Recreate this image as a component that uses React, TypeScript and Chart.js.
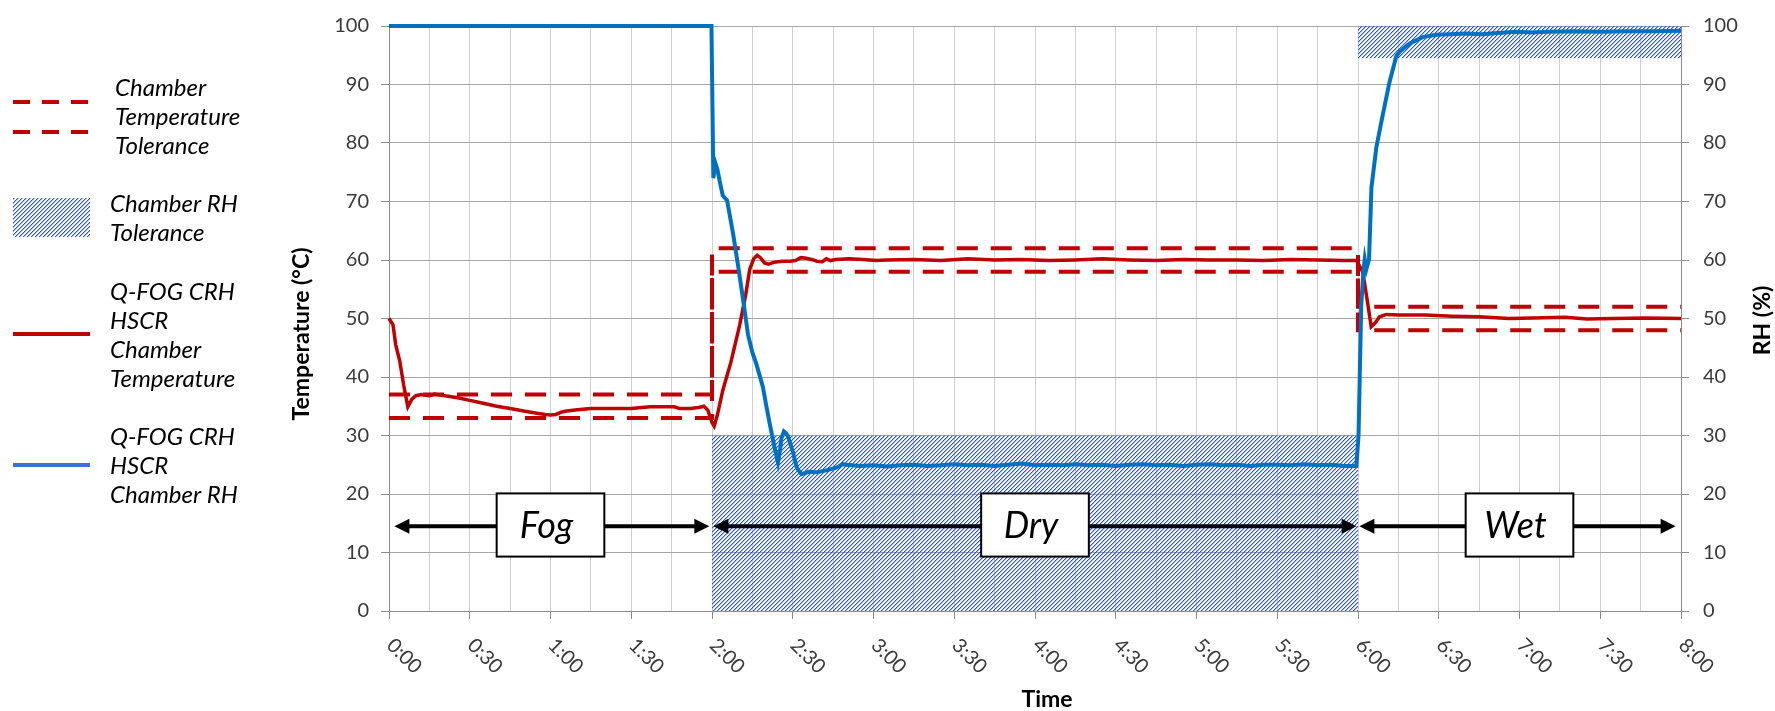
import React, { useEffect, useRef } from 'react';
import { Chart, registerables } from 'chart.js';

Chart.register(...registerables);

// ---------- DATA ----------
// Time in minutes from start
const tempTime = [
  0, 1.5, 2.5, 4, 5.5, 7, 8.5, 10, 12, 15, 17, 19, 22, 26, 30, 35, 40, 45, 50, 55, 58, 60, 62, 64, 66, 70,
  75, 80, 85, 90, 94, 97, 102, 106, 108, 112, 115, 117, 118.5, 120, 120.8, 122, 124, 127, 130.3, 132.5, 134,
  135.5, 136.8, 138, 139.5, 141, 143, 146, 149, 151, 153, 155, 157, 159, 161, 162.5, 164, 166, 171, 176, 181,
  185, 195, 205, 215, 225, 235, 245, 255, 265, 275, 285, 295, 305, 315, 325, 335, 345, 355, 359.5, 361.8,
  363.7, 364.9, 366.5, 368, 370.5, 375, 385, 395, 405, 416, 425, 437, 445, 455, 467, 480,
];
const tempValue = [
  50.0, 48.9, 45.5, 42.7, 38.5, 34.9, 36.2, 36.8, 37.0, 36.8, 37.1, 36.9, 36.7, 36.4, 36.0, 35.5, 35.0, 34.6,
  34.2, 33.8, 33.6, 33.5, 33.6, 34.0, 34.2, 34.4, 34.6, 34.6, 34.6, 34.6, 34.8, 34.9, 34.9, 34.9, 34.6, 34.6,
  34.8, 35.0, 34.3, 32.2, 31.6, 33.5, 37.7, 42.5, 48.9, 54.0, 58.4, 60.2, 60.8, 60.4, 59.5, 59.3, 59.6, 59.8,
  59.8, 59.9, 60.4, 60.3, 60.1, 59.8, 59.7, 60.2, 59.9, 60.1, 60.2, 60.1, 59.9, 60.0, 60.1, 59.9, 60.2, 60.0,
  60.1, 59.9, 60.0, 60.2, 60.0, 59.9, 60.1, 60.0, 60.0, 59.9, 60.1, 60.0, 59.9, 59.9, 57.9, 52.3, 48.6, 49.3,
  50.3, 50.7, 50.6, 50.6, 50.4, 50.3, 50.0, 50.1, 50.2, 49.9, 50.0, 50.1, 50.0,
];

const rhTime = [
  0, 119.8, 120.5, 121.3, 122, 122.8, 124, 125.6, 127.8, 129.7, 131.5, 133.4, 135, 136.5, 138.9, 140.2, 141.4,
  143, 144.5, 145.3, 145.8, 146.7, 147.5, 148.2, 150.1, 151.5, 153.2, 156, 158.8, 162, 166.2, 168.6, 170, 175,
  180, 185, 190, 195, 200, 205, 210, 215, 220, 225, 230, 235, 240, 245, 250, 255, 260, 265, 270, 275, 280, 285,
  290, 295, 300, 305, 310, 315, 320, 325, 330, 335, 340, 345, 350, 355, 359.4, 360.2, 361.2, 362, 362.5, 363.1,
  364.1, 365, 366.8, 369.2, 371.7, 374.2, 375.5, 379.2, 384.1, 389, 394, 400, 406, 412, 419, 425, 430, 440, 450,
  460, 470, 480,
];
const rhValue = [
  100, 100, 74.0, 76.5, 75.5, 73.6, 71.0, 70.2, 64.6, 59.0, 53.4, 47.2, 44.2, 42.2, 38.3, 35.0, 32.1, 28.5,
  25.4, 27.5, 29.5, 30.7, 30.4, 29.9, 27.1, 24.5, 23.4, 23.8, 23.7, 24.0, 24.5, 25.1, 25.0, 24.8, 24.9, 24.7,
  24.9, 25.0, 24.8, 24.9, 25.1, 24.9, 25.0, 24.8, 25.0, 25.2, 24.9, 25.0, 24.9, 25.1, 24.9, 25.0, 24.8, 25.0,
  25.1, 24.9, 25.0, 24.8, 25.0, 25.1, 24.9, 25.0, 24.8, 25.0, 25.0, 24.9, 25.1, 24.9, 25.0, 24.8, 24.8, 30.0,
  52.3, 58.0, 60.1, 58.4, 60.1, 72.4, 79.2, 84.8, 90.4, 94.8, 95.6, 97.0, 98.1, 98.5, 98.6, 98.7, 98.6, 98.8,
  99.0, 98.9, 99.0, 99.1, 99.0, 99.1, 99.1, 99.2,
];

const tolTime = [0, 120, 120, 360, 360, 480];
const tolUpper = [37, 37, 62, 62, 52, 52];
const tolLower = [33, 33, 58, 58, 48, 48];

const rhBandDryTime = [120, 360];
const rhBandDryTop = [30, 30];
const rhBandWetTime = [360, 480];
const rhBandWetTop = [100, 100];
const rhBandWetBottom = 94.5;

const phaseLabels = ['Fog', 'Dry', 'Wet'];
const phaseCenter = [60, 240, 420];
const arrowFrom = [2, 120.5, 360.5];
const arrowTo = [119, 359.5, 478];
const arrowLevel = 14.5;
const boxHalfWidth = 20;
const boxTop = 20.1;
const boxBottom = 9.3;

const xTickMinutes = [0, 30, 60, 90, 120, 150, 180, 210, 240, 270, 300, 330, 360, 390, 420, 450, 480];
const xTickLabels = ['0:00', '0:30', '1:00', '1:30', '2:00', '2:30', '3:00', '3:30', '4:00', '4:30', '5:00',
  '5:30', '6:00', '6:30', '7:00', '7:30', '8:00'];

const legendText = [
  ['Chamber', 'Temperature', 'Tolerance'],
  ['Chamber RH', 'Tolerance'],
  ['Q-FOG CRH', 'HSCR', 'Chamber', 'Temperature'],
  ['Q-FOG CRH', 'HSCR', 'Chamber RH'],
];

const yTitle = 'Temperature (°C)';
const y2Title = 'RH (%)';
const xTitle = 'Time';

// ---------- STYLE ----------
const RED = '#c00000';
const BLUE = '#0070c0';
const LEGEND_BLUE = '#3d6fd6';
const HATCH = '#2450e6';
const FONT = "Lato, 'Open Sans', sans-serif";
const TEXT = '#3a3a3a';

function makeHatch(ctx: CanvasRenderingContext2D): CanvasPattern | string {
  const c = document.createElement('canvas');
  c.width = 4;
  c.height = 4;
  const g = c.getContext('2d');
  if (!g) return HATCH;
  g.fillStyle = HATCH;
  for (let i = 0; i < 4; i++) g.fillRect(i, 3 - i, 1, 1);
  g.fillStyle = 'rgba(36,80,230,0.4)';
  for (let i = 0; i < 4; i++) g.fillRect((i + 1) % 4, 3 - i, 1, 1);
  return ctx.createPattern(c, 'repeat') || HATCH;
}

const zip = (xs: number[], ys: number[]) => xs.map((x, i) => ({ x, y: ys[i] }));

export default function App() {
  const ref = useRef<HTMLCanvasElement | null>(null);

  useEffect(() => {
    const canvas = ref.current;
    if (!canvas) return;
    const ctx0 = canvas.getContext('2d');
    if (!ctx0) return;
    const hatch = makeHatch(ctx0);

    const overlay = {
      id: 'overlay',
      afterDatasetsDraw(chart: any) {
        const ctx: CanvasRenderingContext2D = chart.ctx;
        const xs = chart.scales.x;
        const ys = chart.scales.y;
        ctx.save();
        const ay = ys.getPixelForValue(arrowLevel);
        const head = 15;
        const hh = 7.5;
        ctx.fillStyle = '#000';
        ctx.strokeStyle = '#000';
        for (let i = 0; i < phaseLabels.length; i++) {
          const x1 = xs.getPixelForValue(arrowFrom[i]);
          const x2 = xs.getPixelForValue(arrowTo[i]);
          ctx.lineWidth = 4;
          ctx.beginPath();
          ctx.moveTo(x1 + head - 1, ay);
          ctx.lineTo(x2 - head + 1, ay);
          ctx.stroke();
          ctx.beginPath();
          ctx.moveTo(x1, ay);
          ctx.lineTo(x1 + head, ay - hh);
          ctx.lineTo(x1 + head, ay + hh);
          ctx.closePath();
          ctx.fill();
          ctx.beginPath();
          ctx.moveTo(x2, ay);
          ctx.lineTo(x2 - head, ay - hh);
          ctx.lineTo(x2 - head, ay + hh);
          ctx.closePath();
          ctx.fill();
        }
        for (let i = 0; i < phaseLabels.length; i++) {
          const bx1 = xs.getPixelForValue(phaseCenter[i] - boxHalfWidth);
          const bx2 = xs.getPixelForValue(phaseCenter[i] + boxHalfWidth);
          const by1 = ys.getPixelForValue(boxTop);
          const by2 = ys.getPixelForValue(boxBottom);
          ctx.fillStyle = '#fff';
          ctx.fillRect(bx1, by1, bx2 - bx1, by2 - by1);
          ctx.lineWidth = 2;
          ctx.strokeStyle = '#000';
          ctx.strokeRect(bx1, by1, bx2 - bx1, by2 - by1);
          ctx.fillStyle = '#000';
          ctx.font = `italic 36px ${FONT}`;
          ctx.textAlign = 'center';
          ctx.textBaseline = 'alphabetic';
          ctx.fillText(phaseLabels[i], (bx1 + bx2) / 2 - 4, (by1 + by2) / 2 + 13);
        }
        ctx.restore();
      },
      afterDraw(chart: any) {
        const ctx: CanvasRenderingContext2D = chart.ctx;
        const xs = chart.scales.x;
        const area = chart.chartArea;
        ctx.save();
        // x tick labels rotated clockwise
        ctx.fillStyle = TEXT;
        ctx.font = `20px ${FONT}`;
        ctx.textAlign = 'left';
        ctx.textBaseline = 'middle';
        for (let i = 0; i < xTickMinutes.length; i++) {
          const px = xs.getPixelForValue(xTickMinutes[i]);
          ctx.save();
          ctx.translate(px + 1, area.bottom + 31);
          ctx.rotate(Math.PI / 4);
          ctx.fillText(xTickLabels[i], 0, 0);
          ctx.restore();
        }
        // axis titles
        ctx.fillStyle = '#000';
        ctx.font = `bold 23px ${FONT}`;
        ctx.textAlign = 'center';
        ctx.textBaseline = 'middle';
        ctx.save();
        ctx.translate(area.left - 87, 334);
        ctx.rotate(-Math.PI / 2);
        ctx.fillText(yTitle, 0, 0);
        ctx.restore();
        ctx.save();
        ctx.translate(area.right + 82, (area.top + area.bottom) / 2 + 2);
        ctx.rotate(-Math.PI / 2);
        ctx.fillText(y2Title, 0, 0);
        ctx.restore();
        ctx.fillText(xTitle, 1047, 700);

        // legend
        const lx1 = 13;
        const lx2 = 89;
        ctx.lineWidth = 4;
        ctx.strokeStyle = RED;
        ctx.setLineDash([17, 12]);
        [102, 132].forEach((yy) => {
          ctx.beginPath();
          ctx.moveTo(lx1, yy);
          ctx.lineTo(lx2, yy);
          ctx.stroke();
        });
        ctx.setLineDash([]);
        ctx.fillStyle = hatch as any;
        ctx.fillRect(lx1, 198, lx2 - lx1 + 1, 39);
        ctx.strokeStyle = RED;
        ctx.beginPath();
        ctx.moveTo(lx1, 334);
        ctx.lineTo(lx2 + 1, 334);
        ctx.stroke();
        ctx.strokeStyle = LEGEND_BLUE;
        ctx.beginPath();
        ctx.moveTo(lx1, 465);
        ctx.lineTo(lx2 + 1, 465);
        ctx.stroke();

        ctx.fillStyle = '#000';
        ctx.font = `italic 24px ${FONT}`;
        ctx.textAlign = 'left';
        ctx.textBaseline = 'middle';
        const starts = [88, 204, 292, 437];
        const xstart = [115, 110, 110, 110];
        legendText.forEach((lines, k) => {
          lines.forEach((t, j) => ctx.fillText(t, xstart[k], starts[k] + j * 29));
        });
        ctx.restore();
      },
    };

    const axisGray = '#8c8c8c';

    const chart = new Chart(canvas, {
      type: 'line',
      data: {
        datasets: [
          {
            label: 'Q-FOG CRH HSCR Chamber RH',
            data: zip(rhTime, rhValue),
            yAxisID: 'y2',
            borderColor: BLUE,
            borderWidth: 4,
            pointRadius: 0,
            tension: 0,
            fill: false,
            clip: 8,
          } as any,
          {
            label: 'Q-FOG CRH HSCR Chamber Temperature',
            data: zip(tempTime, tempValue),
            yAxisID: 'y',
            borderColor: RED,
            borderWidth: 3.5,
            pointRadius: 0,
            tension: 0,
            fill: false,
            clip: 8,
          },
          {
            label: 'Chamber Temperature Tolerance (upper)',
            data: zip(tolTime, tolUpper),
            yAxisID: 'y',
            borderColor: RED,
            borderWidth: 4,
            borderDash: [21, 13],
            pointRadius: 0,
            fill: false,
          },
          {
            label: 'Chamber Temperature Tolerance (lower)',
            data: zip(tolTime, tolLower),
            yAxisID: 'y',
            borderColor: RED,
            borderWidth: 4,
            borderDash: [21, 13],
            pointRadius: 0,
            fill: false,
          },
          {
            label: 'Chamber RH Tolerance (dry)',
            data: zip(rhBandDryTime, rhBandDryTop),
            yAxisID: 'y2',
            borderWidth: 0,
            borderColor: 'rgba(0,0,0,0)',
            backgroundColor: hatch as any,
            pointRadius: 0,
            fill: 'origin',
          },
          {
            label: 'Chamber RH Tolerance (wet)',
            data: zip(rhBandWetTime, rhBandWetTop),
            yAxisID: 'y2',
            borderWidth: 0,
            borderColor: 'rgba(0,0,0,0)',
            backgroundColor: hatch as any,
            pointRadius: 0,
            fill: { value: rhBandWetBottom },
          },
        ],
      },
      options: {
        responsive: false,
        animation: false,
        devicePixelRatio: 1,
        layout: { padding: { left: 0, top: 16, right: 0, bottom: 0 } },
        plugins: {
          legend: { display: false },
          tooltip: { enabled: false },
        },
        scales: {
          x: {
            type: 'linear',
            min: 0,
            max: 480,
            afterFit: (s: any) => {
              s.height = 100;
            },
            ticks: { stepSize: 15, display: false },
            grid: {
              color: (c: any) => (c.tick && (c.tick.value === 0 || c.tick.value === 480) ? axisGray : '#d0d0d0'),
              tickColor: (c: any) => (c.tick && c.tick.value % 30 === 0 ? axisGray : 'rgba(0,0,0,0)'),
              tickLength: 8,
              lineWidth: 1,
            },
            border: { display: true, color: axisGray },
          },
          y: {
            type: 'linear',
            position: 'left',
            min: 0,
            max: 100,
            afterFit: (s: any) => {
              s.width = 389;
            },
            ticks: {
              stepSize: 10,
              padding: 12,
              color: TEXT,
              font: { family: FONT, size: 20 },
            },
            grid: { color: '#a6a6a6', tickColor: axisGray, tickLength: 8 },
            border: { display: true, color: axisGray },
          },
          y2: {
            type: 'linear',
            position: 'right',
            min: 0,
            max: 100,
            afterFit: (s: any) => {
              s.width = 94;
            },
            ticks: {
              stepSize: 10,
              padding: 14,
              color: TEXT,
              font: { family: FONT, size: 20 },
            },
            grid: { drawOnChartArea: false, tickColor: axisGray, tickLength: 8 },
            border: { display: true, color: axisGray },
          },
        },
      } as any,
      plugins: [overlay],
    });

    return () => {
      chart.destroy();
    };
  }, []);

  return (
    <div style={{ position: 'absolute', left: 0, top: 0, width: 1775, height: 711, background: '#fff' }}>
      <canvas ref={ref} width={1775} height={711} style={{ width: 1775, height: 711, display: 'block' }} />
    </div>
  );
}
